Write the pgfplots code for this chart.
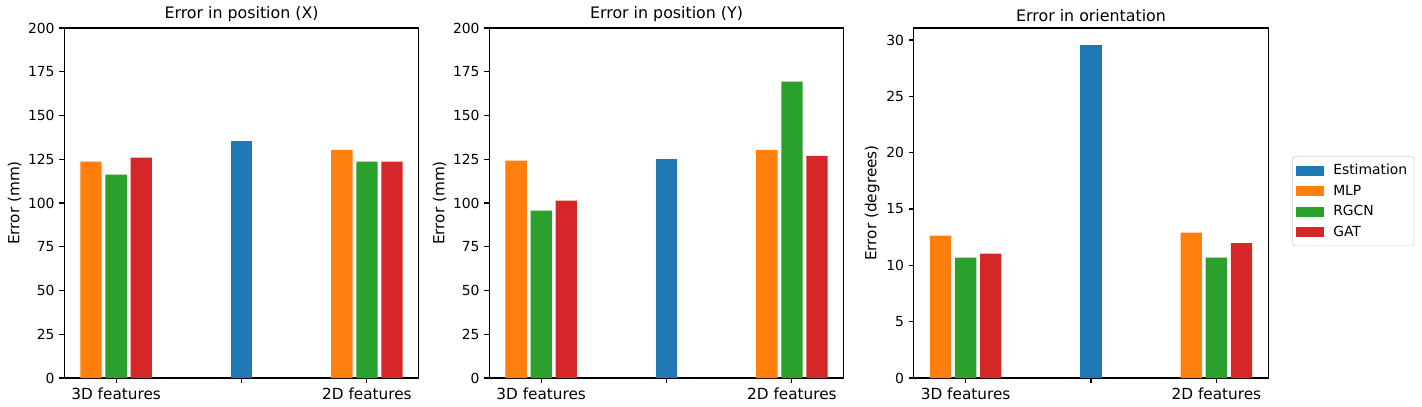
\documentclass[border=0pt]{standalone}
\usepackage{pgfplots}
\pgfplotsset{compat=1.18}
\usepackage{fontspec}
\setmainfont{DejaVu Sans}

\definecolor{cEst}{HTML}{1F77B4}
\definecolor{cMLP}{HTML}{FF7F0E}
\definecolor{cRGCN}{HTML}{2CA02C}
\definecolor{cGAT}{HTML}{D62728}

\pgfplotsset{
  panel/.style={
    width=255.2pt, height=252pt, scale only axis,
    xmin=-0.4135, xmax=2.4135, ymin=0,
    xtick={0,1,2}, xticklabels={3D features,,2D features},
    tick align=outside, tick pos=left,
    major tick length=3.5pt,
    every tick/.style={black, line width=0.8pt},
    axis line style={line width=0.8pt},
    /pgf/number format/assume math mode=true,
    yticklabel style={font=\fontsize{10}{12}\selectfont},
    xticklabel style={font=\fontsize{11}{13}\selectfont},
    ylabel style={font=\fontsize{11}{13}\selectfont},
    ylabel shift=-2pt,
    title style={font=\fontsize{11.4}{13}\selectfont, yshift=-5pt},
  },
  bb/.style={ybar, bar shift=0pt, bar width=0.17, draw=none, fill=#1},
}

\begin{document}
\begin{tikzpicture}
\useasboundingbox (-46.3pt,-20.16pt) rectangle (977.5pt,272.16pt);

% position X
\begin{axis}[panel, at={(0pt,0pt)}, ymax=200, ytick={0,25,...,200},
  title={Error in position (X)}, ylabel={Error (mm)}]
\addplot[bb=cEst] coordinates {(1,135.6)};
\addplot[bb=cMLP] coordinates {(-0.2,123.6) (1.8,130.3)};
\addplot[bb=cRGCN] coordinates {(0,116.2) (2,123.6)};
\addplot[bb=cGAT] coordinates {(0.2,125.9) (2.2,123.6)};
\end{axis}

% position Y
\begin{axis}[panel, at={(306pt,0pt)}, ymax=200, ytick={0,25,...,200},
  title={Error in position (Y)}, ylabel={Error (mm)}]
\addplot[bb=cEst] coordinates {(1,125.3)};
\addplot[bb=cMLP] coordinates {(-0.2,124.2) (1.8,130.3)};
\addplot[bb=cRGCN] coordinates {(0,95.6) (2,169.3)};
\addplot[bb=cGAT] coordinates {(0.2,101.3) (2.2,127.0)};
\end{axis}

% orientation
\begin{axis}[panel, at={(611.6pt,0pt)}, ymax=31.07, ytick={0,5,...,30},
  title={Error in orientation}, ylabel={Error (degrees)},
  legend cell align=left,
  legend style={at={(1.067,0.505)}, anchor=west, draw=black!20,
    rounded corners=2pt, font=\fontsize{10}{12}\selectfont,
    inner xsep=3pt, inner ysep=3.5pt, row sep=1.8pt,
    /tikz/every odd column/.append style={column sep=5pt}},
  legend image code/.code={\fill[#1, sharp corners] (0pt,-3.6pt) rectangle (19.5pt,3.6pt);},
  ]
\addplot[bb=cEst] coordinates {(1,29.59)};
\addplot[bb=cMLP] coordinates {(-0.2,12.63) (1.8,12.9)};
\addplot[bb=cRGCN] coordinates {(0,10.68) (2,10.68)};
\addplot[bb=cGAT] coordinates {(0.2,11.04) (2.2,11.98)};
\legend{Estimation,MLP,RGCN,GAT}
\end{axis}
\end{tikzpicture}
\end{document}
